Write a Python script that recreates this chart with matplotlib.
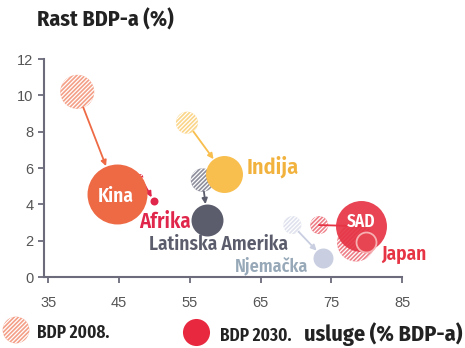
import matplotlib
matplotlib.use('Agg')
import matplotlib.pyplot as plt

# data
zemlje = ['Kina', 'Afrika', 'Indija', 'Latinska Amerika', 'Njemačka', 'SAD', 'Japan']
usluge_2008 = [39.1, 48.0, 54.6, 56.8, 69.5, 73.3, 78.5]
rast_2008 = [10.2, 5.5, 8.5, 5.34, 2.86, 2.86, 1.9]
bdp_2008 = [289, 9, 121, 137, 81, 81, 361]
usluge_2030 = [44.7, 49.9, 59.9, 57.5, 73.9, 79.2, 79.9]
rast_2030 = [4.57, 4.2, 5.67, 3.14, 1.05, 2.8, 1.93]
bdp_2030 = [900, 16, 342, 256, 100, 650, 100]

x_ticks = [35, 45, 55, 65, 75, 85]
y_ticks = [0, 2, 4, 6, 8, 10, 12]

boje = ['#ee6a45', '#e0264b', '#f8be4e', '#5b5d6d', '#c9cfe0', '#e63445', '#e63445']
boje_2008 = ['#f4a088', '#e0264b', '#fad58a', '#8e8f9c', '#e0e3ee', '#ee7f88', '#ee7f88']
boje_teksta = ['white', '#e0264b', '#f2b23e', '#5b5d6d', '#97a9b8', 'white', '#e63445']
# label anchors (data coords, baseline)
lab_x = [44.6, 51.5, 66.7, 59.0, 66.55, 79.2, 85.3]
lab_y = [4.13, 2.70, 5.72, 1.49, 0.28, 2.75, 0.94]
lab_fs = [14, 15, 16, 14, 13, 12.5, 14]

font = ['Fira Sans Condensed', 'DejaVu Sans']
font_uski = ['Fira Sans Extra Condensed', 'DejaVu Sans']
plt.rcParams['font.family'] = font
plt.rcParams['hatch.linewidth'] = 0.9

fig = plt.figure(figsize=(4.65, 3.48), dpi=100)
ax = fig.add_axes([0.0946, 0.204, 0.77, 0.626])

k = 2.07  # marker area scale
for i in range(len(zemlje)):
    s08 = k * bdp_2008[i]
    s30 = k * bdp_2030[i]
    ax.scatter(usluge_2008[i], rast_2008[i], s=s08, facecolor=boje_2008[i],
               edgecolor='white', linewidth=0, hatch='////////', zorder=2, clip_on=False)
    r08 = (s08 ** 0.5) / 2
    r30 = (s30 ** 0.5) / 2
    if zemlje[i] in ('SAD', 'Japan'):
        continue
    ax.annotate('', xy=(usluge_2030[i], rast_2030[i]), xytext=(usluge_2008[i], rast_2008[i]),
                arrowprops=dict(arrowstyle='-|>', color=boje[i], lw=1.3,
                                mutation_scale=8, shrinkA=r08, shrinkB=r30),
                zorder=3)

# SAD connector line
ax.plot([usluge_2008[5], usluge_2030[5]], [rast_2008[5], rast_2030[5]],
        color=boje[5], lw=1.3, zorder=2)

for i in range(len(zemlje)):
    s30 = k * bdp_2030[i]
    if zemlje[i] == 'Japan':
        ax.scatter(usluge_2030[i], rast_2030[i], s=s30, facecolor='#e84552',
                   edgecolor='#f7b0b2', linewidth=1.3, zorder=5, clip_on=False)
    elif zemlje[i] == 'SAD':
        ax.scatter(usluge_2030[i], rast_2030[i], s=s30, facecolor=boje[i],
                   alpha=0.92, linewidth=0, zorder=4, clip_on=False)
    else:
        ax.scatter(usluge_2030[i], rast_2030[i], s=s30, facecolor=boje[i],
                   linewidth=0, zorder=4, clip_on=False)

for i in range(len(zemlje)):
    ax.text(lab_x[i], lab_y[i], zemlje[i], color=boje_teksta[i], fontsize=lab_fs[i],
            fontweight=600, ha='center', va='baseline', zorder=6)

ax.set_xlim(34.4, 85)
ax.set_ylim(0, 12)
ax.set_xticks(x_ticks)
ax.set_yticks(y_ticks)
ax.tick_params(colors='#6b6b7b', labelcolor='#555555', labelsize=10.5, length=4, width=1.3)
ax.tick_params(axis='x', pad=10)
for t in ax.get_xticklabels() + ax.get_yticklabels():
    t.set_family(['Liberation Sans', 'DejaVu Sans'])
for sp in ['top', 'right']:
    ax.spines[sp].set_visible(False)
for sp in ['left', 'bottom']:
    ax.spines[sp].set_color('#6b6b7b')
    ax.spines[sp].set_linewidth(1.5)

# overlay in pixel coords for title, axis label and legend
lax = fig.add_axes([0, 0, 1, 1], zorder=-1)
lax.set_xlim(0, 465)
lax.set_ylim(348, 0)
lax.axis('off')
lax.text(37, 27, 'Rast BDP-a (%)', fontsize=15.8, fontweight='bold', color='#222222',
         va='baseline')
lax.text(462, 341, 'usluge (% BDP-a)', fontsize=16, fontweight='bold', color='#222222',
         va='baseline', ha='right')
lax.scatter([16], [330], s=370, facecolor='#f4a088', edgecolor='white', linewidth=0,
            hatch='////////')
lax.scatter([196], [332], s=380, facecolor='#e8283f', linewidth=0)
lax.text(37, 338, 'BDP 2008.', fontsize=13.5, fontweight=600, color='#222222',
         va='baseline', family=font_uski)
lax.text(220, 341, 'BDP 2030.', fontsize=13.5, fontweight=600, color='#222222',
         va='baseline', family=font_uski)

fig.savefig('out.png', dpi=100)
